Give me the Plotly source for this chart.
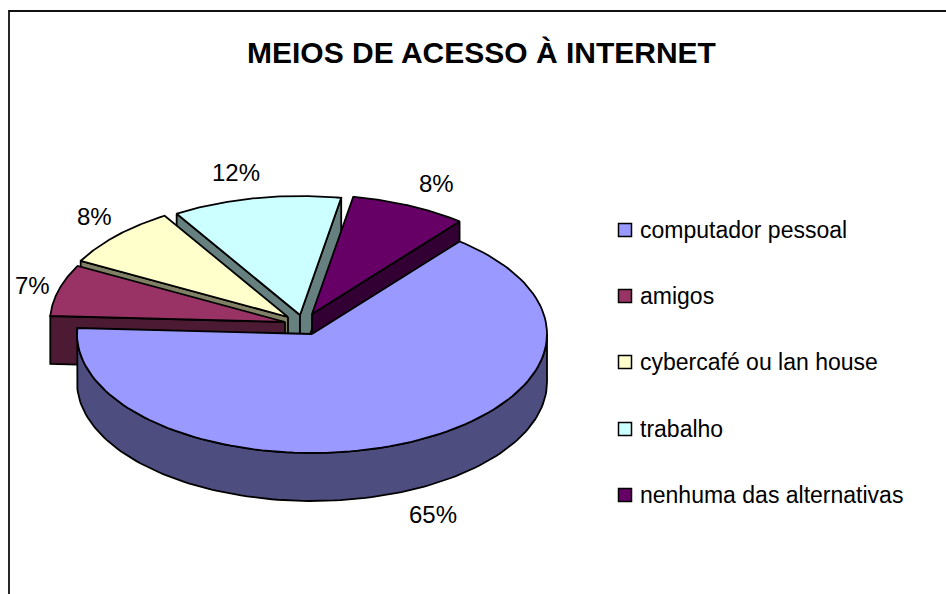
import numpy as np
import plotly.graph_objects as go

# ---- data ----
categories = ["computador pessoal", "amigos", "cybercafé ou lan house", "trabalho", "nenhuma das alternativas"]
values = [65.0, 7.0, 8.4, 11.6, 8.0]
title = "MEIOS DE ACESSO À INTERNET"
top_colors = ["#9999FF", "#993366", "#FFFFCC", "#CCFFFF", "#660066"]
side_colors = ["#4D4D80", "#4D1A33", "#808066", "#668080", "#330033"]

# ---- projection of the tilted, exploded pie onto the page ----
apexes = [(312, 334), (285, 322), (288, 317), (300, 315), (312, 314)]
visible_walls = [[], [0], [0], [0, -1], [-1]]
RX, RY = 235.0, 119.0
DEPTH = 48.0
START = 38.9
label_pos = [(433, 514), (32, 285), (94, 216), (236, 172), (436, 183)]
legend_x, legend_text_x = 625, 638
legend_y = [230, 296, 362, 429, 495]
W, H = 946, 594

spans = np.array(values) / sum(values) * 360.0
starts = START + np.concatenate([[0], np.cumsum(spans)[:-1]])


def rim(apex, a0, a1, n=120):
    t = np.radians(np.linspace(a0, a1, n))
    return apex[0] + RX * np.sin(t), apex[1] - RY * np.cos(t)


fig = go.Figure()


def poly(x, y, color):
    fig.add_trace(go.Scatter(
        x=list(x) + [x[0]], y=list(y) + [y[0]], mode="lines", fill="toself",
        fillcolor=color, line=dict(color="#000000", width=1.8),
        hoverinfo="skip", showlegend=False))


for i in [3, 4, 2, 1, 0]:
    ax, ay = apexes[i]
    a0, a1 = starts[i], starts[i] + spans[i]
    rx, ry = rim((ax, ay), a0, a1)
    # radial walls that face the viewer
    for k in visible_walls[i]:
        poly([ax, rx[k], rx[k], ax], [ay, ry[k], ry[k] + DEPTH, ay + DEPTH], side_colors[i])
    # outer wall of the front slice
    if i == 0:
        ox, oy = rim((ax, ay), 90, a1)
        poly(np.r_[ox, ox[::-1]], np.r_[oy, oy[::-1] + DEPTH], side_colors[i])
    poly(np.r_[ax, rx], np.r_[ay, ry], top_colors[i])

# legend swatches
fig.add_trace(go.Scatter(
    x=[legend_x] * len(categories), y=legend_y, mode="markers",
    marker=dict(symbol="square", size=13, color=top_colors, line=dict(color="#000000", width=1.5)),
    hoverinfo="skip", showlegend=False))

annotations = [dict(x=legend_text_x, y=y, text=c, xanchor="left", yanchor="middle", showarrow=False,
                    font=dict(family="Liberation Sans", size=23, color="#000000"))
               for c, y in zip(categories, legend_y)]
annotations += [dict(x=p[0], y=p[1], text=f"{round(v)}%", xanchor="center", yanchor="middle", showarrow=False,
                     font=dict(family="Liberation Sans", size=24, color="#000000"))
                for v, p in zip(values, label_pos)]
annotations.append(dict(x=481, y=52, text=f"<b>{title}</b>", xanchor="center", yanchor="middle", showarrow=False,
                        font=dict(family="Liberation Sans", size=30, color="#000000")))

fig.update_layout(
    width=W, height=H, autosize=False, margin=dict(l=0, r=0, t=0, b=0),
    paper_bgcolor="#FFFFFF", plot_bgcolor="#FFFFFF", showlegend=False,
    annotations=annotations,
    xaxis=dict(range=[0, W], visible=False, fixedrange=True),
    yaxis=dict(range=[H, 0], visible=False, fixedrange=True),
    shapes=[dict(type="path", path=f"M 9 {H+5} L 9 11 L {W+5} 11",
                 line=dict(color="#111111", width=1.8), layer="below")],
)
fig.write_html("out.html", config={"displayModeBar": False},
               post_script="document.body.style.margin='0';document.documentElement.style.overflow='hidden';")
